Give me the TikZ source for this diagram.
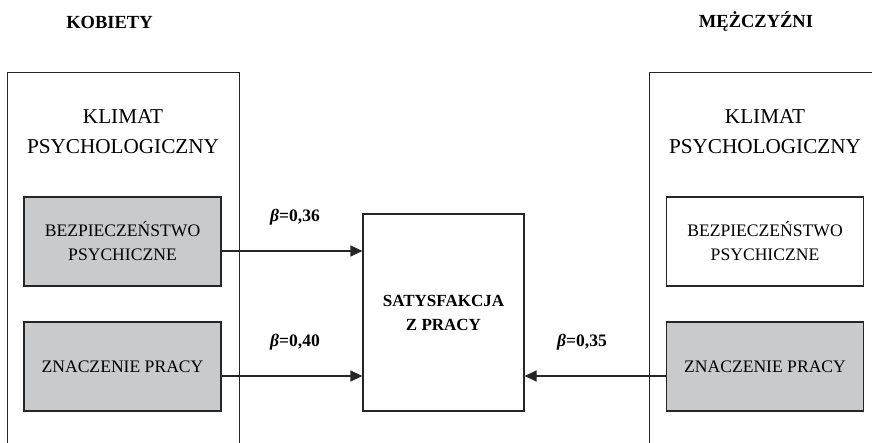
\documentclass[tikz,border=0pt]{standalone}
\usepackage{fontspec}
\setmainfont{Liberation Serif}
\usepackage{tikz}
\usetikzlibrary{arrows.meta,positioning,calc}
\definecolor{ink}{HTML}{262626}
\definecolor{boxgray}{HTML}{C9CACC}
\tikzset{
  >={Triangle[length=12pt,width=11pt]},
  frame/.style={draw=ink,line width=1.2pt,fill=white,minimum width=232pt,minimum height=420pt,anchor=north west},
  factor/.style={draw=ink,line width=1.2pt,minimum width=197pt,minimum height=89pt,align=center,
    font=\fontsize{17.6}{24}\selectfont},
  header/.style={font=\fontsize{18.5}{22}\selectfont\bfseries},
  title/.style={align=center,font=\fontsize{21.2}{30}\selectfont},
  coef/.style={font=\fontsize{17.5}{20}\selectfont\bfseries},
  flow/.style={->,line width=1.2pt,color=ink},
}

\begin{document}
\begin{tikzpicture}[x=1pt,y=-1pt]
  \useasboundingbox (0,0) rectangle (872,443);
  \clip (0,0) rectangle (872,443);

  \node[header] (kob) at (109.5,22) {KOBIETY};
  \node[header] (mez) at (756,22) {MĘŻCZYŹNI};

  \node[frame] (frameL) at (7,72) {};
  \node[frame] (frameR) at (649,72) {};

  \node[title] (klimL) at (123,132) {KLIMAT\\PSYCHOLOGICZNY};
  \node[title] (klimR) at (765,132) {KLIMAT\\PSYCHOLOGICZNY};

  \node[factor,fill=boxgray] (bezL) at (122.5,241.5) {BEZPIECZEŃSTWO\\PSYCHICZNE};
  \node[factor,fill=boxgray] (znaL) at (122.5,366.5) {ZNACZENIE PRACY};
  \node[factor,fill=white] (bezR) at (765,241.5) {BEZPIECZEŃSTWO\\PSYCHICZNE};
  \node[factor,fill=boxgray] (znaR) at (765,366.5) {ZNACZENIE PRACY};

  \node[draw=ink,line width=1.2pt,fill=white,minimum width=161pt,minimum height=197pt,align=center,
    font=\fontsize{17}{24}\selectfont\bfseries] (sat) at (443.5,312.5) {SATYSFAKCJA\\Z PRACY};

  \draw[flow] ([yshift=-9.5pt]bezL.east) -- ([yshift=-9.5pt]bezL.east -| sat.west);
  \draw[flow] ([yshift=-9.5pt]znaL.east) -- ([yshift=-9.5pt]znaL.east -| sat.west);
  \draw[flow] ([yshift=-9.5pt]znaR.west) -- ([yshift=-9.5pt]znaR.west -| sat.east);

  \node[coef] (b1) at (295,217) {\textit{β}=0,36};
  \node[coef] (b2) at (295,342) {\textit{β}=0,40};
  \node[coef] (b3) at (582,342) {\textit{β}=0,35};
\end{tikzpicture}
\end{document}
